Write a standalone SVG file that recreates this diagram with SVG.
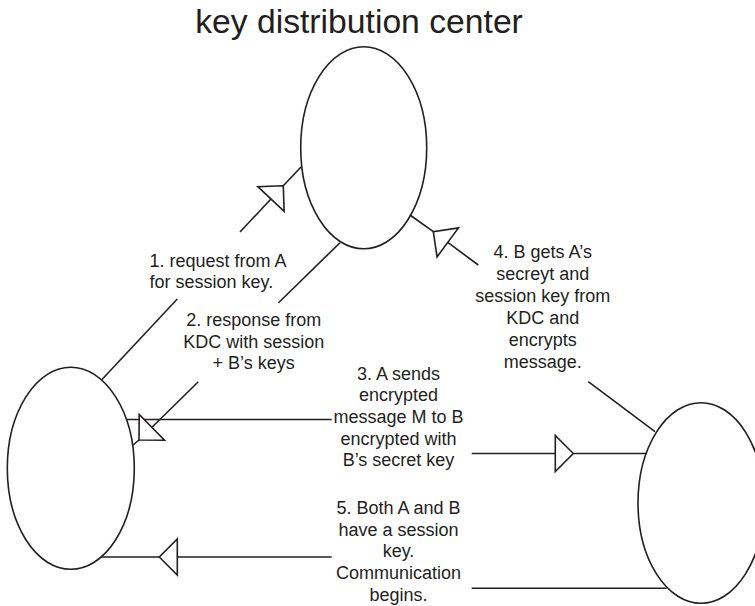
<svg xmlns="http://www.w3.org/2000/svg" width="755" height="606" viewBox="0 0 755 606">
<style>
  .node { fill: #ffffff; stroke: #231f20; stroke-width: 1.6; }
  .conn { fill: none; stroke: #231f20; stroke-width: 1.6; }
  .lbl { font-family: "Liberation Sans", Arial, sans-serif; font-size: 18px; fill: #231f20; }
  .title { font-family: "Liberation Sans", Arial, sans-serif; font-size: 33.7px; fill: #231f20; }
</style>
<defs>
  <marker id="tri" markerUnits="userSpaceOnUse" markerWidth="40" markerHeight="40" refX="0" refY="0" orient="auto" overflow="visible">
    <path d="M0,0 L-18,-18 L-18,18 Z" fill="#ffffff" stroke="#231f20" stroke-width="1.6" stroke-linejoin="miter"/>
  </marker>
</defs>
<rect width="755" height="606" fill="#ffffff"/>
<text class="title" x="359" y="33.3" text-anchor="middle">key distribution center</text>

<g id="kdc"><ellipse class="node" cx="363.7" cy="147.8" rx="63" ry="101"/></g>
<g id="nodeA"><ellipse class="node" cx="70.8" cy="468.3" rx="63.5" ry="101"/></g>
<g id="nodeB"><ellipse class="node" cx="701" cy="503" rx="63" ry="100.3"/></g>

<g id="connectors">
  <!-- 1. request from A -->
  <path class="conn" d="M101.5,380 L177.3,299"/>
  <path class="conn" d="M283.3,185.8 L301,167"/>
  <path class="conn" d="M240,232 L283.3,185.8" marker-end="url(#tri)"/>
  <!-- 2. response from KDC -->
  <path class="conn" d="M340,242.7 L278.3,303"/>
  <path class="conn" d="M139,440 L133,445"/>
  <!-- 3. A sends -->
  <path class="conn" d="M126.4,419.5 L331.7,419.5"/>
  <path class="conn" d="M198.3,381.8 L139,440" marker-end="url(#tri)"/>
  <path class="conn" d="M573.3,453.5 L646.2,453.5"/>
  <path class="conn" d="M471.7,453.5 L573.3,453.5" marker-end="url(#tri)"/>
  <!-- 4. B gets -->
  <path class="conn" d="M655,431.7 L588.3,381.7"/>
  <path class="conn" d="M433.3,231.7 L410,215"/>
  <path class="conn" d="M478.3,265 L433.3,231.7" marker-end="url(#tri)"/>
  <!-- 5. Both A and B -->
  <path class="conn" d="M666.7,588.3 L471.7,588.3"/>
  <path class="conn" d="M159.3,557 L101.2,557"/>
  <path class="conn" d="M331.7,557 L159.3,557" marker-end="url(#tri)"/>
</g>

<g id="labels">
  <text class="lbl" x="149.5" y="266.5"><tspan x="149.5">1. request from A</tspan><tspan x="149.5" dy="21.2">for session key.</tspan></text>
  <text class="lbl" x="253.7" y="326" text-anchor="middle"><tspan x="253.7">2. response from</tspan><tspan x="253.7" dy="21.7">KDC with session</tspan><tspan x="253.7" dy="21.7">+ B’s keys</tspan></text>
  <text class="lbl" x="398.5" y="379.5" text-anchor="middle"><tspan x="398.5">3. A sends</tspan><tspan x="398.5" dy="21.7">encrypted</tspan><tspan x="398.5" dy="21.7">message M to B</tspan><tspan x="398.5" dy="21.7">encrypted with</tspan><tspan x="398.5" dy="21.7">B’s secret key</tspan></text>
  <text class="lbl" x="542.7" y="258" text-anchor="middle"><tspan x="542.7">4. B gets A’s</tspan><tspan x="542.7" dy="21.9">secreyt and</tspan><tspan x="542.7" dy="21.9">session key from</tspan><tspan x="542.7" dy="21.9">KDC and</tspan><tspan x="542.7" dy="21.9">encrypts</tspan><tspan x="542.7" dy="21.9">message.</tspan></text>
  <text class="lbl" x="398.5" y="514" text-anchor="middle"><tspan x="398.5">5. Both A and B</tspan><tspan x="398.5" dy="21.7">have a session</tspan><tspan x="398.5" dy="21.7">key.</tspan><tspan x="398.5" dy="21.7">Communication</tspan><tspan x="398.5" dy="21.7">begins.</tspan></text>
</g>
</svg>
